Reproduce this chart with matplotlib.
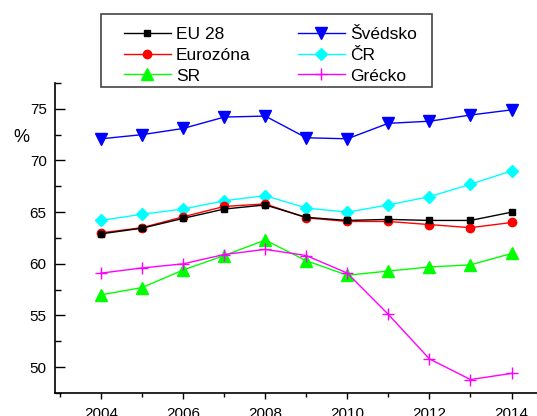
import matplotlib
matplotlib.use("Agg")
import matplotlib.pyplot as plt
from matplotlib.ticker import MultipleLocator
from matplotlib.patches import Rectangle

plt.rcParams['font.family'] = ['Liberation Sans', 'DejaVu Sans']

years = [2004, 2005, 2006, 2007, 2008, 2009, 2010, 2011, 2012, 2013, 2014]
eu28 = [62.9, 63.45, 64.4, 65.3, 65.7, 64.5, 64.2, 64.3, 64.2, 64.2, 65.0]
eurozona = [63.0, 63.5, 64.55, 65.55, 65.8, 64.45, 64.1, 64.1, 63.8, 63.5, 64.0]
sr = [57.0, 57.7, 59.4, 60.8, 62.3, 60.3, 58.9, 59.3, 59.7, 59.9, 61.0]
svedsko = [72.1, 72.5, 73.1, 74.2, 74.3, 72.2, 72.1, 73.6, 73.8, 74.4, 74.9]
cr = [64.2, 64.8, 65.3, 66.1, 66.6, 65.4, 65.0, 65.7, 66.5, 67.7, 69.0]
grecko = [59.1, 59.6, 60.0, 60.9, 61.4, 60.8, 59.1, 55.1, 50.8, 48.8, 49.4]

W, H = 537, 416
fig = plt.figure(figsize=(W / 100, H / 100), dpi=100)
ax = fig.add_axes([55 / W, 1 - 393 / H, 1 - 55 / W, (393 - 83) / H])

l1, = ax.plot(years, eu28, color='black', marker='s', ms=5, lw=1, label='EU 28')
l2, = ax.plot(years, svedsko, color='#0000ff', marker='v', ms=8, lw=1, label='Švédsko')
l3, = ax.plot(years, eurozona, color='#ff0000', marker='o', ms=6, lw=1, label='Eurozóna')
l4, = ax.plot(years, cr, color='#00ffff', marker='D', ms=6, lw=1, label='ČR')
l5, = ax.plot(years, sr, color='#00ff00', marker='^', ms=8, lw=1, label='SR')
l6, = ax.plot(years, grecko, color='#ff00ff', marker='+', ms=9, mew=1, lw=1, label='Grécko')

l1.set_zorder(5); l3.set_zorder(4)

ax.set_xlim(2002.88, 2014.62)
ax.set_ylim(47.5, 77.5)
ax.xaxis.set_major_locator(MultipleLocator(2))
ax.xaxis.set_minor_locator(MultipleLocator(1))
ax.yaxis.set_major_locator(MultipleLocator(5))
ax.yaxis.set_minor_locator(MultipleLocator(2.5))
ax.tick_params(axis='x', which='major', direction='out', length=4, width=1, pad=6, labelsize=11)
ax.tick_params(axis='x', which='minor', direction='out', length=3, width=1)
ax.tick_params(axis='y', which='major', direction='in', length=7, width=1, pad=6, labelsize=11)
ax.tick_params(axis='y', which='minor', direction='in', length=4, width=1)
for s in ['top', 'right']:
    ax.spines[s].set_visible(False)
for s in ['left', 'bottom']:
    ax.spines[s].set_linewidth(1.2)

fig.text(0.024, 0.67, '%', fontsize=13, ha='left', va='center')

# legend frame
fig.patches.append(Rectangle((101 / W, 1 - 87 / H), (432 - 101) / W, (87 - 14) / H,
                             transform=fig.transFigure, fill=False,
                             edgecolor='#444444', lw=1.2))

leg = fig.legend(handles=[l1, l3, l5, l2, l4, l6], ncol=2, loc='upper left',
                 bbox_to_anchor=(124 / W, 1 - 27 / H), bbox_transform=fig.transFigure,
                 frameon=False, fontsize=12.5, borderpad=0, borderaxespad=0,
                 handlelength=2.7, handletextpad=0.3, columnspacing=2.7,
                 labelspacing=0.32)

fig.savefig('out.png', dpi=100)
